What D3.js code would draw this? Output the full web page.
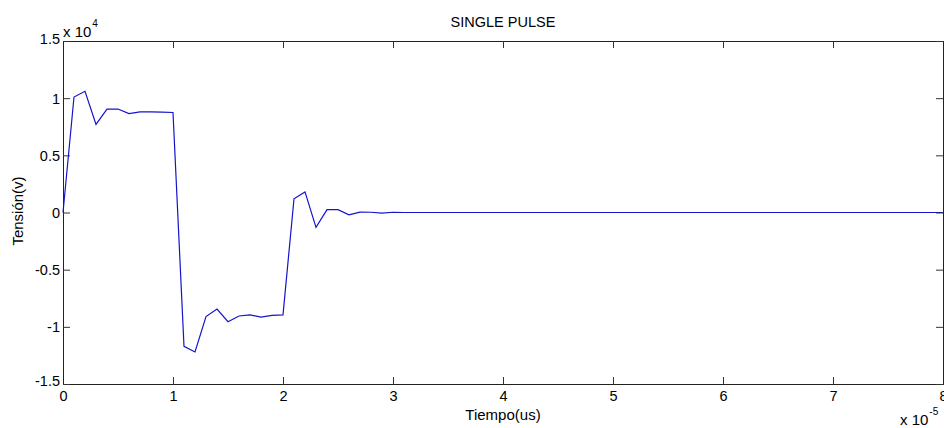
<!DOCTYPE html>
<html>
<head>
<meta charset="utf-8">
<script src="https://cdn.jsdelivr.net/npm/d3@7"></script>
<style>
html,body{margin:0;padding:0;background:#fff;}
svg text{font-family:"Liberation Sans",Arial,Helvetica,sans-serif;fill:#000;}
</style>
</head>
<body>
<svg id="chart" width="944" height="428"></svg>
<script>
// Time samples (x 1e-5 s)
const tiempo = [0,0.1,0.2,0.3,0.4,0.5,0.6,0.7,0.8,0.9,1.0,1.1,1.2,1.3,1.4,1.5,1.6,1.7,1.8,1.9,2.0,
  2.1,2.2,2.3,2.4,2.5,2.6,2.7,2.8,2.9,3.0,3.1,3.2,3.3,3.4,3.5,3.6,3.7,3.8,3.9,4.0,
  4.1,4.2,4.3,4.4,4.5,4.6,4.7,4.8,4.9,5.0,5.1,5.2,5.3,5.4,5.5,5.6,5.7,5.8,5.9,6.0,
  6.1,6.2,6.3,6.4,6.5,6.6,6.7,6.8,6.9,7.0,7.1,7.2,7.3,7.4,7.5,7.6,7.7,7.8,7.9,8.0];
// Voltage (x 1e4 V)
const tension = [0,1.01,1.06,0.77,0.905,0.905,0.865,0.88,0.88,0.878,0.875,
  -1.17,-1.22,-0.91,-0.845,-0.955,-0.905,-0.895,-0.915,-0.9,-0.895,
  0.12,0.18,-0.13,0.025,0.025,-0.02,0.003,0.002,-0.006,0.002,
  0,0,0,0,0,0,0,0,0,0,
  0,0,0,0,0,0,0,0,0,0,
  0,0,0,0,0,0,0,0,0,0,
  0,0,0,0,0,0,0,0,0,0,
  0,0,0,0,0,0,0,0,0,0];
const xTicks = [0,1,2,3,4,5,6,7,8];
const yTicks = [-1.5,-1,-0.5,0,0.5,1,1.5];
const yTickLabels = ["-1.5","-1","-0.5","0","0.5","1","1.5"];
const title = "SINGLE PULSE";
const xLabel = "Tiempo(us)";
const yLabel = "Tensión(v)";

const svg = d3.select("#chart");
const L = 63, R = 943, T = 41, B = 384;
const x = d3.scaleLinear().domain([0,8]).range([L,R]);
const y = d3.scaleLinear().domain([-1.5,1.5]).range([B,T]);
const tick = 7;
const fs = 14.5;

// data line
svg.append("path")
  .datum(tiempo.map((t,i)=>[t,tension[i]]))
  .attr("fill","none")
  .attr("stroke","#1414cc")
  .attr("stroke-width",1.2)
  .attr("d", d3.line().x(d=>x(d[0])).y(d=>y(d[1])));

// axes with inward ticks
const gB = svg.append("g").attr("transform",`translate(0,${B})`)
  .call(d3.axisBottom(x).tickValues(xTicks).tickSize(-tick).tickPadding(6).tickFormat(d3.format("d")));
const gT = svg.append("g").attr("transform",`translate(0,${T})`)
  .call(d3.axisTop(x).tickValues(xTicks).tickSize(-tick).tickFormat(""));
const gL = svg.append("g").attr("transform",`translate(${L},0)`)
  .call(d3.axisLeft(y).tickValues(yTicks).tickSize(-tick).tickPadding(3).tickFormat((d,i)=>yTickLabels[i]));
const gR = svg.append("g").attr("transform",`translate(${R},0)`)
  .call(d3.axisRight(y).tickValues(yTicks).tickSize(-tick).tickFormat(""));
[gB,gT,gL,gR].forEach(g=>{
  g.select(".domain").attr("stroke","#222").attr("stroke-width",1);
  g.selectAll(".tick line").attr("stroke","#333");
  g.selectAll("text").attr("font-size",fs).attr("font-family","Liberation Sans, Arial, sans-serif").attr("fill","#000");
});
gB.selectAll(".tick text").attr("dy","0.75em");
gL.selectAll(".tick text").attr("dy","0.35em");
gL.selectAll(".tick").filter(d=>d===-1.5).select("text").attr("dy","0.1em");
gL.selectAll(".tick").filter(d=>d===1.5).select("text").attr("dy","0.2em");

// title
svg.append("text").attr("x",(L+R)/2).attr("y",27).attr("text-anchor","middle")
  .attr("font-size",14.5).text(title);
// axis labels
svg.append("text").attr("x",(L+R)/2).attr("y",420).attr("text-anchor","middle")
  .attr("font-size",15).text(xLabel);
svg.append("text").attr("transform","translate(23,211) rotate(-90)").attr("text-anchor","middle")
  .attr("font-size",15).text(yLabel);
// exponent labels
const e1 = svg.append("text").attr("x",63).attr("y",37).attr("font-size",15);
e1.append("tspan").text("x 10");
e1.append("tspan").attr("font-size",10).attr("dy",-10).attr("dx",1).text("4");
const e2 = svg.append("text").attr("x",900).attr("y",425).attr("font-size",15);
e2.append("tspan").text("x 10");
e2.append("tspan").attr("font-size",10).attr("dy",-10).attr("dx",1).text("-5");
</script>
</body>
</html>
